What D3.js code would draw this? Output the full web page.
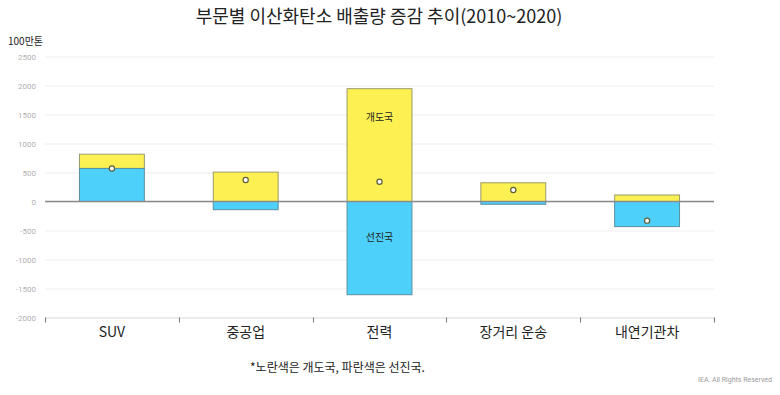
<!DOCTYPE html>
<html>
<head>
<meta charset="utf-8">
<script src="https://cdn.jsdelivr.net/npm/d3@7"></script>
<style>
  body { margin: 0; background: #fff; }
  svg text { font-family: "Noto Sans CJK KR", "Noto Sans", sans-serif; }
</style>
</head>
<body>
<div id="chart"></div>
<script>
// sectors and values (million tonnes CO2, change 2010~2020)
var categories = ["SUV", "중공업", "전력", "장거리 운송", "내연기관차"];
var developing = [246, 507, 1945, 323, 112];     // yellow (개도국)
var developed = [570, -141, -1607, -48, -433];   // blue (선진국)
var netChange = [570, 370, 340, 198, -330];      // circle markers
var yTicks = [2500, 2000, 1500, 1000, 500, 0, -500, -1000, -1500, -2000];

var width = 780, height = 395;
var svg = d3.select("#chart").append("svg")
  .attr("width", width)
  .attr("height", height);

var x = d3.scaleBand().domain(categories).range([45, 714]).padding(0);
var y = d3.scaleLinear().domain([-2000, 2500]).range([317.5, 56.5]);

// title
svg.append("text")
  .attr("x", 379).attr("y", 23)
  .attr("text-anchor", "middle")
  .style("font-size", "18px")
  .attr("fill", "#222")
  .text("부문별 이산화탄소 배출량 증감 추이(2010~2020)");

// unit
svg.append("text")
  .attr("x", 8).attr("y", 45)
  .style("font-size", "10px")
  .attr("fill", "#222")
  .text("100만톤");

// grid
svg.append("g").selectAll("line")
  .data(yTicks)
  .enter().append("line")
  .attr("x1", 45).attr("x2", 714)
  .attr("y1", function(d) { return y(d) + 0.5; })
  .attr("y2", function(d) { return y(d) + 0.5; })
  .attr("stroke", function(d) { return d == -2000 ? "#d8d8d8" : "#eeeeee"; })
  .attr("stroke-width", 1);

// y tick labels
var yAxis = svg.append("g")
  .attr("transform", "translate(45,0)")
  .call(d3.axisLeft(y).tickValues(yTicks).tickSize(0).tickPadding(9)
    .tickFormat(function(d) { return String(d); }));
yAxis.select(".domain").remove();
yAxis.selectAll("text")
  .attr("fill", "#b0b0b0")
  .style("font-size", "8px")
  .style("font-family", "Roboto, sans-serif");

// x tick marks at band boundaries
var bounds = d3.range(categories.length + 1).map(function(i) { return x.range()[0] + i * x.step(); });
svg.append("g").selectAll("line")
  .data(bounds)
  .enter().append("line")
  .attr("x1", function(d) { return Math.round(d) + 0.5; })
  .attr("x2", function(d) { return Math.round(d) + 0.5; })
  .attr("y1", y(-2000)).attr("y2", y(-2000) + 5)
  .attr("stroke", "#777")
  .attr("stroke-width", 1);

// x labels
svg.append("g").selectAll("text")
  .data(categories)
  .enter().append("text")
  .attr("x", function(d) { return x(d) + x.bandwidth() / 2; })
  .attr("y", 337)
  .attr("text-anchor", "middle")
  .style("font-size", "14px")
  .attr("fill", "#222")
  .text(function(d) { return d; });

// bars
var barW = x.bandwidth() * 0.485;
var rows = categories.map(function(c, i) {
  var blue = developed[i], yel = developing[i];
  var yBase = blue > 0 ? blue : 0;
  return { cat: c, blue0: 0, blue1: blue, yel0: yBase, yel1: yBase + yel, net: netChange[i] };
});

var bars = svg.append("g").selectAll("g")
  .data(rows)
  .enter().append("g");

bars.append("rect")
  .attr("x", function(d) { return x(d.cat) + (x.bandwidth() - barW) / 2; })
  .attr("width", barW)
  .attr("y", function(d) { return y(Math.max(d.yel0, d.yel1)); })
  .attr("height", function(d) { return Math.abs(y(d.yel0) - y(d.yel1)); })
  .attr("fill", "#fdf052")
  .attr("stroke", "#9a9a6a")
  .attr("stroke-width", 1);

bars.append("rect")
  .attr("x", function(d) { return x(d.cat) + (x.bandwidth() - barW) / 2; })
  .attr("width", barW)
  .attr("y", function(d) { return y(Math.max(d.blue0, d.blue1)); })
  .attr("height", function(d) { return Math.abs(y(d.blue0) - y(d.blue1)); })
  .attr("fill", "#4dd1fb")
  .attr("stroke", "#5a8fa0")
  .attr("stroke-width", 1);

// zero line
svg.append("line")
  .attr("x1", 45).attr("x2", 714)
  .attr("y1", y(0)).attr("y2", y(0))
  .attr("stroke", "#8a8a8a")
  .attr("stroke-width", 1.5);

// net markers
bars.append("circle")
  .attr("cx", function(d) { return x(d.cat) + x.bandwidth() / 2; })
  .attr("cy", function(d) { return y(d.net); })
  .attr("r", 2.6)
  .attr("fill", "#fff")
  .attr("stroke", "#5e5e3a")
  .attr("stroke-width", 1.2);

// labels in power bar
var pc = x("전력") + x.bandwidth() / 2;
svg.append("text")
  .attr("x", pc).attr("y", y(1380))
  .attr("text-anchor", "middle")
  .style("font-size", "10px")
  .attr("fill", "#222")
  .text("개도국");
svg.append("text")
  .attr("x", pc).attr("y", y(-680))
  .attr("text-anchor", "middle")
  .style("font-size", "10px")
  .attr("fill", "#222")
  .text("선진국");

// footnotes
svg.append("text")
  .attr("x", 250).attr("y", 372)
  .style("font-size", "12px")
  .attr("fill", "#222")
  .text("*노란색은 개도국, 파란색은 선진국.");
svg.append("text")
  .attr("x", 772).attr("y", 382)
  .attr("text-anchor", "end")
  .style("font-size", "7px")
  .style("font-family", "Roboto, sans-serif")
  .attr("fill", "#999")
  .text("IEA. All Rights Reserved");
</script>
</body>
</html>
